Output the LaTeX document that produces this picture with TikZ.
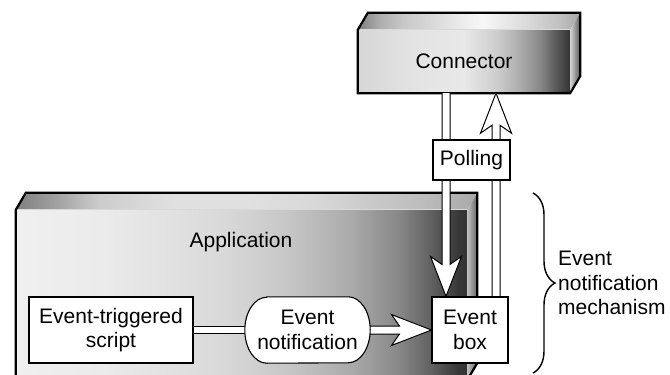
\documentclass[tikz,border=0pt]{standalone}
\usepackage{fontspec}
\setmainfont{Liberation Sans}
\usetikzlibrary{calc,decorations.pathreplacing}

% metallic face shadings (path bounding box maps to 25bp..75bp)
\pgfdeclarehorizontalshading{appfront}{100bp}{%
  rgb(0bp)=(0.94,0.94,0.94); rgb(25bp)=(0.94,0.94,0.94);
  rgb(35bp)=(0.92,0.92,0.92); rgb(48bp)=(0.85,0.85,0.85);
  rgb(55bp)=(0.78,0.78,0.78); rgb(62bp)=(0.67,0.67,0.67);
  rgb(67.5bp)=(0.53,0.53,0.53); rgb(71bp)=(0.38,0.38,0.38);
  rgb(74bp)=(0.22,0.22,0.22); rgb(75bp)=(0.20,0.20,0.20);
  rgb(100bp)=(0.20,0.20,0.20)}
\pgfdeclarehorizontalshading{apptop}{100bp}{%
  rgb(0bp)=(0.50,0.50,0.50); rgb(25bp)=(0.50,0.50,0.50);
  rgb(29bp)=(0.62,0.62,0.62); rgb(34bp)=(0.80,0.80,0.80);
  rgb(42bp)=(0.88,0.88,0.88); rgb(50bp)=(0.88,0.88,0.88);
  rgb(57bp)=(0.85,0.85,0.85); rgb(69bp)=(0.74,0.74,0.74);
  rgb(75bp)=(0.66,0.66,0.66); rgb(100bp)=(0.66,0.66,0.66)}
\pgfdeclarehorizontalshading{appside}{100bp}{%
  rgb(0bp)=(0.75,0.75,0.75); rgb(25bp)=(0.75,0.75,0.75);
  rgb(75bp)=(0.40,0.40,0.40); rgb(100bp)=(0.40,0.40,0.40)}
\pgfdeclarehorizontalshading{connfront}{100bp}{%
  rgb(0bp)=(0.84,0.84,0.84); rgb(25bp)=(0.84,0.84,0.84);
  rgb(38bp)=(0.89,0.89,0.89); rgb(50bp)=(0.91,0.91,0.91);
  rgb(58bp)=(0.80,0.80,0.80); rgb(63bp)=(0.68,0.68,0.68);
  rgb(68bp)=(0.53,0.53,0.53); rgb(71.5bp)=(0.36,0.36,0.36);
  rgb(75bp)=(0.20,0.20,0.20); rgb(100bp)=(0.20,0.20,0.20)}
\pgfdeclarehorizontalshading{conntop}{100bp}{%
  rgb(0bp)=(0.50,0.50,0.50); rgb(25bp)=(0.50,0.50,0.50);
  rgb(30bp)=(0.68,0.68,0.68); rgb(35bp)=(0.78,0.78,0.78);
  rgb(48bp)=(0.92,0.92,0.92); rgb(53bp)=(0.97,0.97,0.97);
  rgb(61bp)=(0.88,0.88,0.88); rgb(70bp)=(0.76,0.76,0.76);
  rgb(75bp)=(0.66,0.66,0.66); rgb(100bp)=(0.66,0.66,0.66)}
\pgfdeclarehorizontalshading{connside}{100bp}{%
  rgb(0bp)=(0.82,0.82,0.82); rgb(25bp)=(0.82,0.82,0.82);
  rgb(75bp)=(0.35,0.35,0.35); rgb(100bp)=(0.35,0.35,0.35)}

\pgfdeclarelayer{back}
\pgfdeclarelayer{mid}
\pgfsetlayers{back,mid,main}

\begin{document}
\begin{tikzpicture}[x=1pt,y=-1pt,
  txt/.style={font=\fontsize{21}{24.5}\selectfont, text=black},
  box/.style={txt, draw=black, line width=1.1pt, fill=white, inner sep=0pt, align=center},
  slabline/.style={draw=black, line width=2.2pt, line join=miter},
  arrowbody/.style={draw=black, fill=white, line width=1pt, line join=miter},
  bracestyle/.style={draw=black, line width=1.4pt, decorate, decoration={brace, amplitude=22pt}},
]
\clip (0,0) rectangle (670,375);

% ---- slabs ----
\begin{pgfonlayer}{back}
  % application slab
  \node[shading=appfront, inner sep=0pt, minimum width=451pt, minimum height=170pt] (app) at (241.5,295) {};
  \path[shading=apptop] (app.north west) -- ++(10,-17) -- ($(app.north east)+(10,-17)$) -- (app.north east) -- cycle;
  \path[shading=appside] (app.north east) -- ++(10,-17) -- ($(app.south east)+(10,-17)$) -- (app.south east) -- cycle;
  \draw[black!15, line width=0.8pt] (app.north west) -- (app.north east);
  \draw[slabline] (app.south west) -- (app.north west) -- ++(10,-17)
     -- ($(app.north east)+(10,-17)$) -- ($(app.south east)+(10,-17)$) -- (app.south east);
  \node[txt] (apptitle) at (241,242) {Application};

  % connector slab
  \node[txt, shading=connfront, inner sep=0pt, minimum width=212pt, minimum height=63pt] (conn) at (464,61.5) {Connector};
  \path[shading=conntop] (conn.north west) -- ++(10,-17) -- ($(conn.north east)+(10,-17)$) -- (conn.north east) -- cycle;
  \path[shading=connside] (conn.north east) -- ++(10,-17) -- ($(conn.south east)+(10,-17)$) -- (conn.south east) -- cycle;
  \draw[black!15, line width=0.8pt] (conn.north west) -- (conn.north east);
  \draw[slabline] (conn.south west) -- (conn.north west) -- ++(10,-17)
     -- ($(conn.north east)+(10,-17)$) -- ($(conn.south east)+(10,-17)$) -- (conn.south east) -- cycle;
\end{pgfonlayer}

% ---- boxes ----
\node[box, minimum width=77pt, minimum height=40pt] (poll) at (471.5,160) {Polling};
\node[box, minimum width=76pt, minimum height=66pt] (evbox) at (470,330) {Event\\box};
\node[box, minimum width=164pt, minimum height=66pt] (script) at (111,330) {Event-triggered\\script};
\node[txt, inner sep=0pt, minimum width=125pt, minimum height=66pt, align=center] (notif) at (307.5,330) {Event\\notification};

% ---- connectors ----
\begin{pgfonlayer}{mid}
  % script -> notification (plain double line)
  \draw[line width=1pt, double=white, double distance=6.5pt] (script.east) -- (notif.west);

  % notification -> event box
  \coordinate (hS) at (notif.east);
  \coordinate (hT) at (evbox.west);
  \draw[arrowbody] ($(hS)+(0,-4)$) -- ($(hT)+(-32,-4)$) -- ($(hT)+(-40,-15.5)$) -- (hT)
     -- ($(hT)+(-40,15.5)$) -- ($(hT)+(-32,4)$) -- ($(hS)+(0,4)$);

  % connector -> event box (through polling)
  \coordinate (dT) at ($(evbox.north)+(-24,0)$);
  \coordinate (dS) at (dT |- conn.south);
  \draw[arrowbody] ($(dS)+(-4,0)$) -- ($(dT)+(-4,-32)$) -- ($(dT)+(-15.5,-40)$) -- (dT)
     -- ($(dT)+(15.5,-40)$) -- ($(dT)+(4,-32)$) -- ($(dS)+(4,0)$);

  % event box -> connector
  \coordinate (uS) at ($(evbox.north)+(26,0)$);
  \coordinate (uT) at (uS |- conn.south);
  \draw[arrowbody] ($(uS)+(-4,0)$) -- ($(uT)+(-4,32)$) -- ($(uT)+(-15.5,40)$) -- (uT)
     -- ($(uT)+(15.5,40)$) -- ($(uT)+(4,32)$) -- ($(uS)+(4,0)$);

  % oval outline of the notification node
  \draw[line width=1.1pt, fill=white] ($(notif.north west)+(22,0)$) -- ($(notif.north east)+(-22,0)$)
     arc[start angle=-90, end angle=90, x radius=22, y radius=33]
     -- ($(notif.south west)+(22,0)$)
     arc[start angle=90, end angle=270, x radius=22, y radius=33] -- cycle;
\end{pgfonlayer}

% ---- brace and its label ----
\coordinate (brtop) at (533,193);
\coordinate (brbot) at (533,373);
\draw[bracestyle] (brtop) -- (brbot);
\node[txt, anchor=west, align=left, inner sep=0pt] (mech) at (558,283) {Event\\notification\\mechanism};
\end{tikzpicture}
\end{document}
